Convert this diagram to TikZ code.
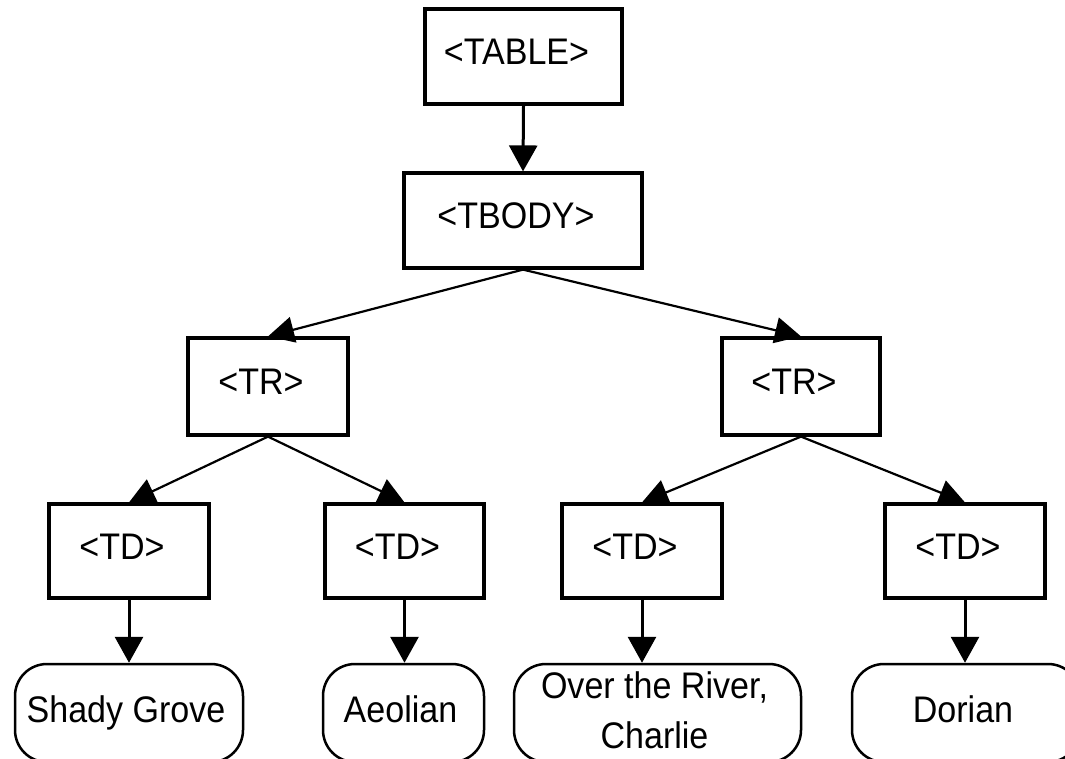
\documentclass[tikz,border=0pt]{standalone}
\usepackage{fontspec}
\setmainfont{Liberation Sans}[FakeStretch=0.92]
\usetikzlibrary{arrows.meta}
\begin{document}
\begin{tikzpicture}[x=1pt,y=-1pt,
  tagbox/.style={draw, line width=3.2pt, fill=white, inner sep=0pt},
  tagtext/.style={font=\fontsize{37}{44}\selectfont, text height=26.5pt,
    text depth=10pt, inner sep=0pt, xshift=-7pt},
  leaf/.style={draw, line width=2.5pt, rounded corners=32pt,
    minimum height=98pt, inner sep=0pt},
  leaftext/.style={font=\fontsize{37}{50}\selectfont, text height=27pt,
    text depth=8pt, inner sep=0pt, xshift=-3pt},
  leaftwo/.style={font=\fontsize{37}{50}\selectfont, align=center,
    inner sep=0pt, xshift=-3pt, yshift=3pt},
  link/.style={line width=2.2pt, -{Triangle[length=26pt,width=26pt]}},
  drop/.style={line width=3pt, -{Triangle[length=26pt,width=28pt]}},
]
\useasboundingbox (0,0) rectangle (1065,758);
\clip (0,0) rectangle (1065,758);

% element boxes
\node[tagbox, minimum width=197pt, minimum height=95pt,
  label={[tagtext]center:{<TABLE>}}] (table) at (523.5,56.5) {};
\node[tagbox, minimum width=238pt, minimum height=95pt,
  label={[tagtext]center:{<TBODY>}}] (tbody) at (523,220.5) {};
\node[tagbox, minimum width=160pt, minimum height=97pt,
  label={[tagtext]center:{<TR>}}] (trA) at (268,386.5) {};
\node[tagbox, minimum width=158pt, minimum height=97pt,
  label={[tagtext]center:{<TR>}}] (trB) at (801,386.5) {};
\node[tagbox, minimum width=160pt, minimum height=94pt,
  label={[tagtext]center:{<TD>}}] (tdA) at (129,551) {};
\node[tagbox, minimum width=159pt, minimum height=94pt,
  label={[tagtext]center:{<TD>}}] (tdB) at (404.5,551) {};
\node[tagbox, minimum width=160pt, minimum height=94pt,
  label={[tagtext]center:{<TD>}}] (tdC) at (642,551) {};
\node[tagbox, minimum width=160pt, minimum height=94pt,
  label={[tagtext]center:{<TD>}}] (tdD) at (965,551) {};

% text leaves
\node[leaf, minimum width=228pt,
  label={[leaftext]center:Shady Grove}] (leafA) at (129,713) {};
\node[leaf, minimum width=161pt,
  label={[leaftext]center:Aeolian}] (leafB) at (403.5,713) {};
\node[leaf, minimum width=287pt,
  label={[leaftwo]center:{Over the River,\\Charlie}}] (leafC) at (657.5,713) {};
\node[leaf, minimum width=228pt,
  label={[leaftext]center:Dorian}] (leafD) at (966,713) {};

% tree edges
\draw[drop] (table.south) -- (tbody.north);
\draw[link] (tbody.south) -- (trA.north);
\draw[link] (tbody.south) -- (trB.north);
\draw[link] (trA.south) -- (tdA.north);
\draw[link] (trA.south) -- (tdB.north);
\draw[link] (trB.south) -- (tdC.north);
\draw[link] (trB.south) -- (tdD.north);
\draw[drop] (tdA.south) -- (tdA.south |- leafA.north);
\draw[drop] (tdB.south) -- (tdB.south |- leafB.north);
\draw[drop] (tdC.south) -- (tdC.south |- leafC.north);
\draw[drop] (tdD.south) -- (tdD.south |- leafD.north);
\end{tikzpicture}
\end{document}
